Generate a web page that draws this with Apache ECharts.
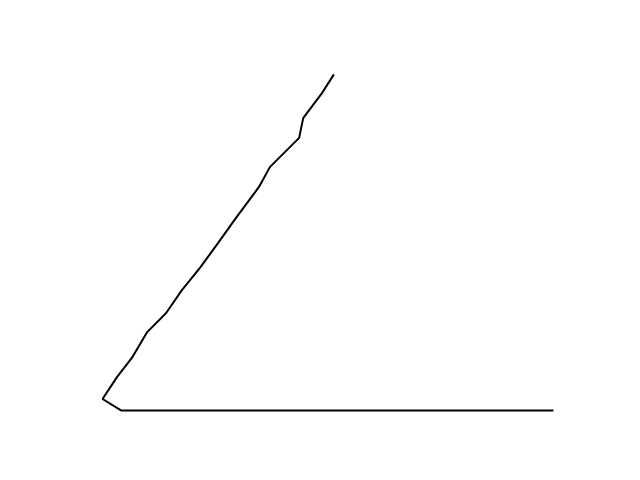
<!DOCTYPE html>
<html>
<head>
<meta charset="utf-8">
<script src="https://cdn.jsdelivr.net/npm/echarts@6/dist/echarts.min.js"></script>
<style>html,body{margin:0;padding:0;background:#fff;}#c{width:640px;height:480px;}</style>
</head>
<body>
<div id="c"></div>
<script>
const xValues = [100, 4.1, 0, 3.2, 6.5, 9.9, 14.1, 17.6, 21.6, 25.6, 29.6, 34.7, 37.1, 43.6, 44.5, 48.7, 51.3];
const yValues = [0, 0, 3.4, 9.9, 15.6, 23.3, 29.0, 35.8, 42.4, 49.8, 57.3, 66.5, 72.4, 81.1, 87.0, 94.5, 100];

const chart = echarts.init(document.getElementById('c'), null, {renderer: 'canvas'});
chart.setOption({
  animation: false,
  backgroundColor: '#ffffff',
  grid: {left: 80, right: 64, top: 57.6, bottom: 52.8},
  xAxis: {type: 'value', min: -5, max: 105, show: false},
  yAxis: {type: 'value', min: -5, max: 105, show: false},
  series: [{
    type: 'line',
    data: xValues.map((x, i) => [x, yValues[i]]),
    showSymbol: false,
    lineStyle: {color: '#000000', width: 2},
    itemStyle: {color: '#000000'}
  }]
});
</script>
</body>
</html>
